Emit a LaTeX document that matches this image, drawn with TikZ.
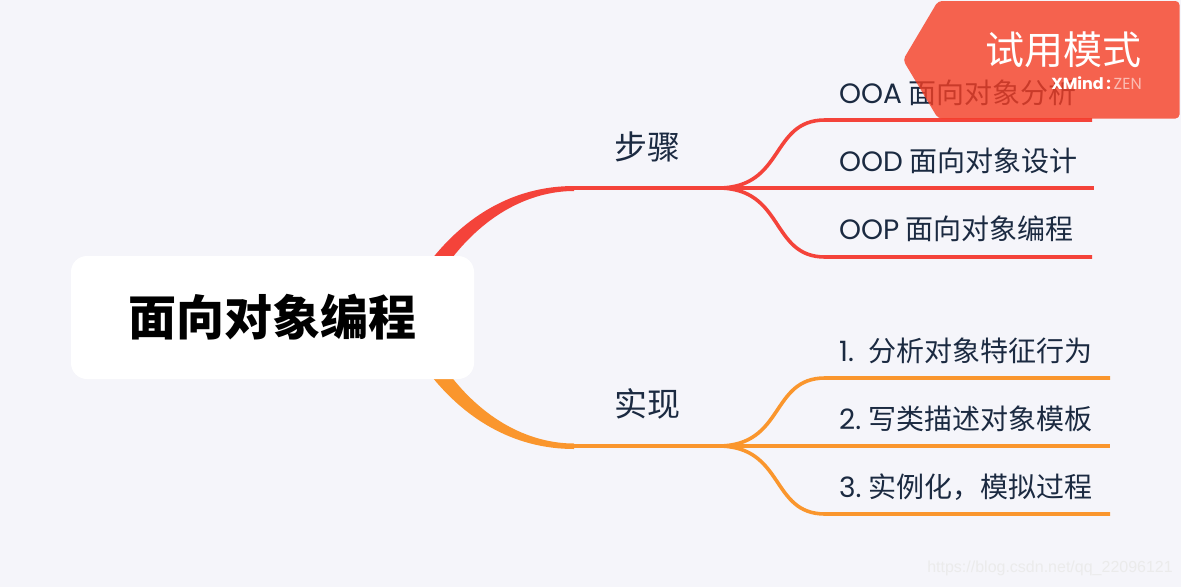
\documentclass[tikz,border=0pt]{standalone}
\usepackage{fontspec}
\setmainfont{Noto Sans CJK SC}
\newfontfamily\latinf{Poppins}
\newfontfamily\wmf{Liberation Sans}
\definecolor{bgc}{HTML}{F5F5FA}
\definecolor{redc}{HTML}{F4433A}
\definecolor{orac}{HTML}{FA962D}
\definecolor{inkc}{HTML}{1B2A41}
\definecolor{banc}{HTML}{F53E24}
\tikzset{
  leaf/.style={anchor=west,inner sep=0pt,text=inkc,font=\fontsize{28}{30}\selectfont},
  midtopic/.style={anchor=west,inner sep=0pt,text=inkc,font=\fontsize{33}{36}\selectfont},
  lnk/.style={line width=3.6pt,line cap=butt},
}
\begin{document}
\begin{tikzpicture}[x=1pt,y=-1pt]
\useasboundingbox (0,0) rectangle (1181,587);
\fill[bgc] (0,0) rectangle (1181,587);
% anchors
\coordinate (ra) at (574,188);
\coordinate (rb) at (718,188);
\coordinate (oa) at (574,446);
\coordinate (ob) at (718,446);
\coordinate (l1s) at (825,120);  \coordinate (l1e) at (1092,120);
\coordinate (l2s) at (825,188);\coordinate (l2e) at (1094,188);
\coordinate (l3s) at (825,257);  \coordinate (l3e) at (1092,257);
\coordinate (l4s) at (825,378);  \coordinate (l4e) at (1110,378);
\coordinate (l5s) at (825,446);  \coordinate (l5e) at (1110,446);
\coordinate (l6s) at (825,514);  \coordinate (l6e) at (1110,514);
% tapered main branches
\fill[redc] (418,278) .. controls (460,215) and (515,186) .. (574,186)
  -- (574,191) .. controls (530,191) and (478,215) .. (438,278) -- cycle;
\fill[orac] (418,358) .. controls (460,420) and (515,449) .. (574,449)
  -- (574,443.5) .. controls (530,443.5) and (478,420) .. (438,358) -- cycle;
% root
\node[draw=none,fill=white,rounded corners=16pt,minimum width=403pt,minimum height=123pt,inner sep=0pt,
  font=\fontsize{48}{52}\selectfont\bfseries,text=black] (root) at (272.5,317.5) {面向对象编程};
% branches
\draw[lnk,redc] (ra) -- (rb);
\draw[lnk,redc] (rb) -- (l2s) -- (l2e);
\draw[lnk,redc] (rb) .. controls (785,188) and (770,120) .. (l1s) -- (l1e);
\draw[lnk,redc] (rb) .. controls (785,188) and (770,257) .. (l3s) -- (l3e);
\draw[lnk,orac] (oa) -- (ob);
\draw[lnk,orac] (ob) -- (l5s) -- (l5e);
\draw[lnk,orac] (ob) .. controls (785,446) and (770,378) .. (l4s) -- (l4e);
\draw[lnk,orac] (ob) .. controls (785,446) and (770,514) .. (l6s) -- (l6e);
% labels
\node[midtopic] (bz) at (614,147) {步骤};
\node[midtopic] (sx) at (614,404) {实现};
\node[leaf] (t1) at (839,93) {{\latinf OOA} 面向对象分析};
\node[leaf] (t2) at (839,161) {{\latinf OOD} 面向对象设计};
\node[leaf] (t3) at (839,229) {{\latinf OOP} 面向对象编程};
\node[leaf] (t4) at (839,351) {{\latinf 1.}\hspace{6pt} 分析对象特征行为};
\node[leaf] (t5) at (839,419) {{\latinf 2.}\hspace{-1pt} 写类描述对象模板};
\node[leaf] (t6) at (839,487) {{\latinf 3.}\hspace{-1pt} 实例化，模拟过程};
% trial banner
\fill[banc,fill opacity=0.8,rounded corners=4pt] (903,60) -- (938,1) -- (1179.5,1) -- (1179.5,118.5) -- (938,118.5) -- cycle;
\node[inner sep=0pt,text=white,font=\fontsize{39}{42}\selectfont,anchor=east] (ban) at (1142,50) {试用模式};
\node[inner sep=0pt,anchor=east,text=white,font=\latinf\fontsize{16}{18}\selectfont] (xm) at (1142,83) {\textbf{XMind}\,\textbf{:}\,\textcolor{white!65!banc}{ZEN}};
% watermark
\node[inner sep=0pt,anchor=east,text=black!8,font=\wmf\fontsize{16}{20}\selectfont] (wm) at (1173,568) {https://blog.csdn.net/qq\_22096121};
\end{tikzpicture}
\end{document}
